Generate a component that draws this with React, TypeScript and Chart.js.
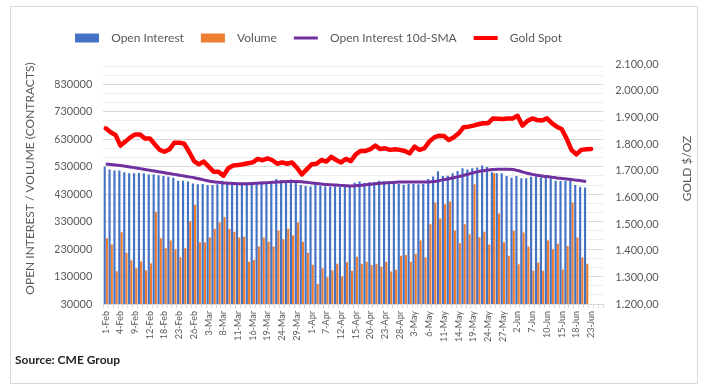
import React, { useEffect, useRef } from 'react';
import { Chart, registerables } from 'chart.js';

Chart.register(...registerables);

// ---------- DATA ----------
const DATES: string[] = [
  '1-Feb', '2-Feb', '3-Feb', '4-Feb', '5-Feb', '8-Feb', '9-Feb', '10-Feb', '11-Feb', '12-Feb',
  '16-Feb', '17-Feb', '18-Feb', '19-Feb', '22-Feb', '23-Feb', '24-Feb', '25-Feb', '26-Feb',
  '1-Mar', '2-Mar', '3-Mar', '4-Mar', '5-Mar', '8-Mar', '9-Mar', '10-Mar', '11-Mar', '12-Mar',
  '15-Mar', '16-Mar', '17-Mar', '18-Mar', '19-Mar', '22-Mar', '23-Mar', '24-Mar', '25-Mar', '26-Mar',
  '29-Mar', '30-Mar', '31-Mar',
  '1-Apr', '5-Apr', '6-Apr', '7-Apr', '8-Apr', '9-Apr', '12-Apr', '13-Apr', '14-Apr', '15-Apr',
  '16-Apr', '19-Apr', '20-Apr', '21-Apr', '22-Apr', '23-Apr', '26-Apr', '27-Apr', '28-Apr', '29-Apr', '30-Apr',
  '3-May', '4-May', '5-May', '6-May', '7-May', '10-May', '11-May', '12-May', '13-May', '14-May',
  '17-May', '18-May', '19-May', '20-May', '21-May', '24-May', '25-May', '26-May', '27-May', '28-May',
  '1-Jun', '2-Jun', '3-Jun', '4-Jun', '7-Jun', '8-Jun', '9-Jun', '10-Jun', '11-Jun', '14-Jun',
  '15-Jun', '16-Jun', '17-Jun', '18-Jun', '21-Jun', '22-Jun', '23-Jun', '24-Jun', '25-Jun',
];

const OPEN_INTEREST: number[] = [
  530000, 520000, 516000, 516000, 510000, 506000, 506000, 507000, 506000, 502000,
  502000, 499000, 496000, 493000, 490000, 479000, 479000, 476000, 469000, 466000,
  467000, 463000, 463000, 466000, 479000, 473000, 469000, 469000, 468000, 469000,
  472000, 474000, 476000, 473000, 476000, 485000, 482000, 480000, 483000, 480000,
  463000, 460000, 458000, 463000, 460000, 458000, 457000, 458000, 457000, 457000,
  456000, 472000, 476000, 471000, 473000, 473000, 479000, 477000, 477000, 478000,
  467000, 464000, 467000, 467000, 466000, 468000, 485000, 494000, 513000, 496000,
  497000, 506000, 514000, 524000, 520000, 524000, 527000, 534000, 529000, 510000,
  506000, 506000, 496000, 490000, 496000, 488000, 488000, 493000, 494000, 491000,
  490000, 488000, 479000, 478000, 478000, 478000, 463000, 457000, 454000,
];

const VOLUME: number[] = [
  269000, 247000, 149000, 291000, 217000, 189000, 160000, 185000, 153000, 178000,
  366000, 269000, 233000, 261000, 229000, 200000, 233000, 331000, 391000, 255000,
  255000, 272000, 304000, 327000, 347000, 303000, 293000, 272000, 275000, 184000,
  190000, 239000, 272000, 257000, 239000, 298000, 266000, 304000, 280000, 327000,
  257000, 217000, 173000, 103000, 160000, 127000, 153000, 177000, 130000, 182000,
  151000, 202000, 177000, 184000, 172000, 177000, 166000, 184000, 148000, 155000,
  206000, 208000, 184000, 213000, 261000, 199000, 320000, 400000, 341000, 393000,
  403000, 298000, 251000, 320000, 284000, 466000, 273000, 293000, 247000, 506000,
  360000, 255000, 206000, 297000, 175000, 290000, 239000, 151000, 181000, 151000,
  261000, 229000, 249000, 156000, 241000, 400000, 272000, 199000, 177000,
];

const OI_SMA_10D: number[] = [
  540000, 538000, 536000, 534000, 532000, 529000, 526000, 523000, 520000, 517000,
  514000, 511000, 508000, 505000, 502000, 499000, 496000, 493000, 490000, 486000,
  482000, 478000, 475000, 473000, 471000, 470000, 469000, 468000, 468000, 468000,
  469000, 470000, 471000, 472000, 473000, 474000, 475000, 476000, 476000, 476000,
  475000, 473000, 471000, 469000, 467000, 465000, 464000, 463000, 462000, 461000,
  460000, 461000, 462000, 464000, 466000, 468000, 470000, 471000, 472000, 473000,
  474000, 474000, 474000, 474000, 474000, 474000, 474000, 476000, 479000, 483000,
  486000, 490000, 494000, 498000, 503000, 508000, 512000, 515000, 518000, 520000,
  521000, 521000, 521000, 520000, 516000, 511000, 506000, 502000, 499000, 496000,
  494000, 492000, 489000, 487000, 485000, 483000, 481000, 479000, 476000,
];

const GOLD_SPOT: number[] = [
  1859, 1844, 1834, 1794, 1809, 1825, 1836, 1836, 1821, 1821,
  1799, 1778, 1771, 1780, 1805, 1805, 1801, 1771, 1736, 1724,
  1734, 1715, 1696, 1696, 1681, 1709, 1719, 1721, 1724, 1728,
  1731, 1744, 1739, 1746, 1739, 1726, 1731, 1726, 1731, 1711,
  1686, 1705, 1724, 1726, 1740, 1734, 1752, 1740, 1731, 1744,
  1736, 1761, 1774, 1774, 1781, 1794, 1781, 1784, 1778, 1780,
  1778, 1774, 1765, 1790, 1778, 1784, 1809, 1825, 1831, 1830,
  1815, 1825, 1840, 1863, 1865, 1869, 1874, 1878, 1878, 1896,
  1895, 1894, 1896, 1896, 1906, 1869, 1886, 1896, 1890, 1888,
  1896, 1878, 1865, 1856, 1821, 1778, 1761, 1778, 1780, 1781,
];

const SERIES_NAMES = ['Open Interest', 'Volume', 'Open Interest 10d-SMA', 'Gold Spot'];
const LEFT_TITLE = 'OPEN INTEREST / VOLUME (CONTRACTS)';
const RIGHT_TITLE = 'GOLD $/OZ';
const SOURCE = 'Source: CME Group';

// left axis: major every 100000 from 30000, minor lines at thirds
const LEFT_MIN = 30000;
const LEFT_MAX = 904000;
const LEFT_MAJOR = 100000;
const RIGHT_MIN = 1200;
const RIGHT_MAX = 2100;
const RIGHT_STEP = 100;

const COLORS = {
  oi: '#4472C4',
  vol: '#ED7D31',
  sma: '#7030A0',
  gold: '#FF0000',
  text: '#595959',
};

const FONT = 'Lato';

function euroFormat(v: number): string {
  const [i, d] = v.toFixed(2).split('.');
  return i.replace(/\B(?=(\d{3})+(?!\d))/g, '.') + ',' + d;
}

const extrasPlugin = {
  id: 'extras',
  beforeLayout(chart: any) {
    const lg = chart.legend;
    if (lg && !lg.__patched) {
      const orig = lg.fit;
      lg.fit = function (this: any) {
        orig.call(this);
        this.height += 10;
      };
      lg.__patched = true;
    }
  },
  afterLayout(chart: any) {
    const lg = chart.legend;
    if (lg) {
      lg.left += 3;
      lg.right += 3;
    }
  },
  afterDraw(chart: any) {
    const { ctx, chartArea } = chart;
    ctx.save();
    ctx.fillStyle = COLORS.text;
    ctx.font = `12px ${FONT}`;
    ctx.textAlign = 'center';
    ctx.textBaseline = 'middle';
    ctx.save();
    ctx.translate(30, chartArea.top + 114.5);
    ctx.rotate(-Math.PI / 2);
    ctx.fillText(LEFT_TITLE, 0, 0);
    ctx.restore();
    ctx.save();
    ctx.translate(687, chartArea.top + 104.5);
    ctx.rotate(-Math.PI / 2);
    ctx.fillText(RIGHT_TITLE, 0, 0);
    ctx.restore();
    ctx.fillStyle = '#262626';
    ctx.font = `bold 12px ${FONT}`;
    ctx.textAlign = 'left';
    ctx.fillText(SOURCE, 15, 360);
    ctx.restore();
  },
};

export default function App() {
  const ref = useRef<HTMLCanvasElement>(null);

  useEffect(() => {
    document.body.style.margin = '0';
    Chart.defaults.font.family = FONT;
    Chart.defaults.color = COLORS.text;

    const leftTicks: number[] = [];
    for (let k = 0; LEFT_MIN + (k * LEFT_MAJOR) / 3 <= LEFT_MAX; k++) {
      leftTicks.push(LEFT_MIN + (k * LEFT_MAJOR) / 3);
    }

    const chart = new Chart(ref.current as HTMLCanvasElement, {
      type: 'bar',
      data: {
        labels: DATES,
        datasets: [
          {
            type: 'bar',
            label: SERIES_NAMES[0],
            data: OPEN_INTEREST,
            backgroundColor: COLORS.oi,
            borderWidth: 0,
            yAxisID: 'y',
            order: 2,
            categoryPercentage: 0.9,
            barPercentage: 0.98,
          },
          {
            type: 'bar',
            label: SERIES_NAMES[1],
            data: VOLUME,
            backgroundColor: COLORS.vol,
            borderWidth: 0,
            yAxisID: 'y',
            order: 2,
            categoryPercentage: 0.9,
            barPercentage: 0.98,
          },
          {
            type: 'line',
            label: SERIES_NAMES[2],
            data: OI_SMA_10D,
            borderColor: COLORS.sma,
            backgroundColor: COLORS.sma,
            borderWidth: 3,
            pointRadius: 0,
            tension: 0.3,
            yAxisID: 'y',
            order: 1,
          },
          {
            type: 'line',
            label: SERIES_NAMES[3],
            data: GOLD_SPOT,
            borderColor: COLORS.gold,
            backgroundColor: COLORS.gold,
            borderWidth: 4.5,
            borderJoinStyle: 'round',
            borderCapStyle: 'round',
            pointRadius: 0,
            tension: 0,
            yAxisID: 'y1',
            order: 0,
          },
        ] as any,
      },
      options: {
        responsive: false,
        animation: false,
        devicePixelRatio: 1,
        layout: { padding: { left: 55, top: 15, right: 0, bottom: 0 } },
        plugins: {
          tooltip: { enabled: false },
          legend: {
            display: true,
            position: 'top',
            align: 'start',
            labels: {
              usePointStyle: true,
              pointStyleWidth: 24,
              boxHeight: 9,
              padding: 17,
              color: COLORS.text,
              font: { size: 12, family: FONT },
              sort: (a: any, b: any) => a.datasetIndex - b.datasetIndex,
              generateLabels: (ch: any) => {
                const base = (Chart.defaults.plugins.legend.labels as any).generateLabels(ch);
                return base.map((it: any) => {
                  const ds = ch.data.datasets[it.datasetIndex];
                  const isLine = ds.type === 'line';
                  return {
                    ...it,
                    text: '  ' + it.text,
                    pointStyle: isLine ? 'line' : 'rect',
                    lineWidth: isLine ? (it.datasetIndex === 3 ? 4 : 3) : 0,
                    strokeStyle: isLine ? ds.borderColor : ds.backgroundColor,
                    fillStyle: ds.backgroundColor,
                  };
                });
              },
            },
          },
        },
        scales: {
          x: {
            offset: true,
            afterFit: (s: any) => {
              s.height = 87;
            },
            grid: {
              display: true,
              drawOnChartArea: false,
              drawTicks: true,
              tickLength: 4,
              color: '#D9D9D9',
              offset: true,
            },
            border: { display: true, color: '#D9D9D9' },
            ticks: {
              autoSkip: false,
              maxRotation: 90,
              minRotation: 90,
              padding: 3,
              color: COLORS.text,
              font: { size: 9, family: FONT },
              callback: function (this: any, val: any, idx: number) {
                return idx % 3 === 0 ? this.getLabelForValue(val) : '';
              },
            },
          },
          y: {
            position: 'left',
            min: LEFT_MIN,
            max: LEFT_MAX,
            afterFit: (s: any) => {
              s.width = 48.3;
            },
            afterBuildTicks: (s: any) => {
              s.ticks = leftTicks.map((v) => ({ value: v }));
            },
            border: { display: false },
            grid: {
              drawTicks: false,
              color: (c: any) => (c.index % 3 === 0 ? '#D9D9D9' : '#EDEDED'),
            },
            ticks: {
              autoSkip: false,
              padding: 11,
              color: COLORS.text,
              font: { size: 11, family: FONT },
              callback: (v: any, idx: number) => (idx % 3 === 0 ? String(Math.round(Number(v))) : ''),
            },
          },
          y1: {
            position: 'right',
            min: RIGHT_MIN,
            max: RIGHT_MAX,
            afterFit: (s: any) => {
              s.width = 112.7;
            },
            border: { display: false },
            grid: { display: false, drawTicks: false, drawOnChartArea: false },
            ticks: {
              autoSkip: false,
              stepSize: RIGHT_STEP,
              padding: 12,
              color: COLORS.text,
              font: { size: 11, family: FONT },
              callback: (v: any) => euroFormat(Number(v)),
            },
          },
        },
      } as any,
      plugins: [extrasPlugin],
    });

    return () => chart.destroy();
  }, []);

  return (
    <div style={{ position: 'relative', width: 716, height: 391, background: '#ffffff' }}>
      <div
        style={{
          position: 'absolute',
          left: 10,
          top: 6,
          width: 688,
          height: 378,
          border: '1px solid #D9D9D9',
          boxSizing: 'border-box',
        }}
      />
      <canvas
        ref={ref}
        width={716}
        height={391}
        style={{ position: 'absolute', left: 0, top: 0, width: 716, height: 391 }}
      />
    </div>
  );
}
